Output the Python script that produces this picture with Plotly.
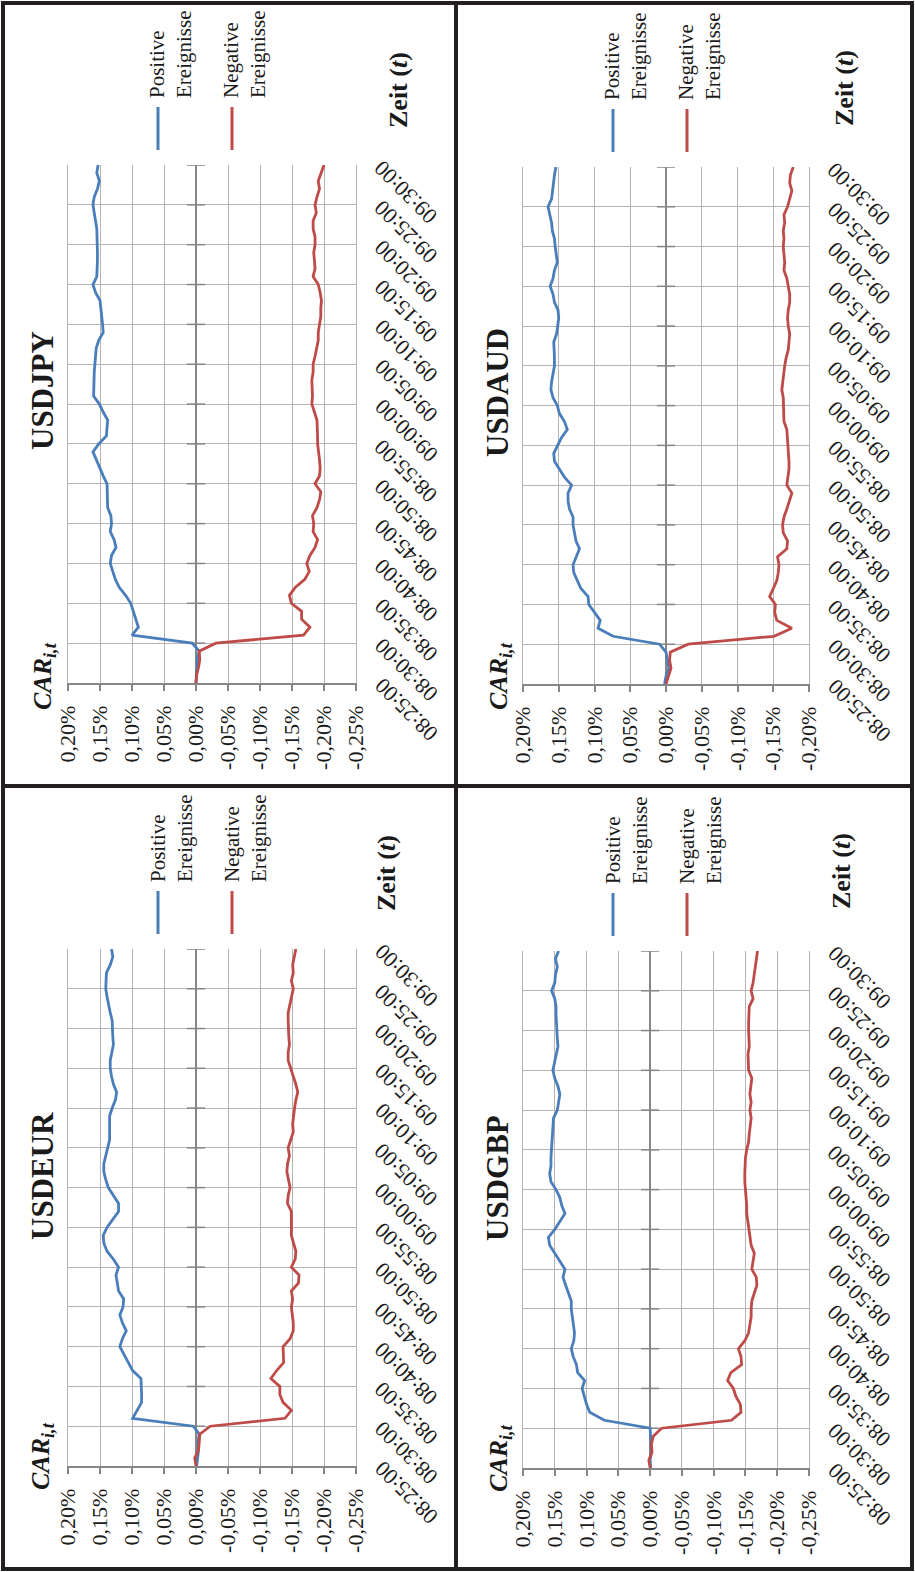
import plotly.graph_objects as go

# ---------------- data ----------------
minutes = list(range(66))  # minutes after 08:25:00
time_ticks = list(range(0, 66, 5))
time_labels = ["08:25:00", "08:30:00", "08:35:00", "08:40:00", "08:45:00", "08:50:00",
               "08:55:00", "09:00:00", "09:05:00", "09:10:00", "09:15:00", "09:20:00",
               "09:25:00", "09:30:00"]

value_ticks_wide = [0.20, 0.15, 0.10, 0.05, 0.00, -0.05, -0.10, -0.15, -0.20, -0.25]
value_labels_wide = ["0,20%", "0,15%", "0,10%", "0,05%", "0,00%", "-0,05%", "-0,10%",
                     "-0,15%", "-0,20%", "-0,25%"]
value_ticks_narrow = [0.20, 0.15, 0.10, 0.05, 0.00, -0.05, -0.10, -0.15, -0.20]
value_labels_narrow = ["0,20%", "0,15%", "0,10%", "0,05%", "0,00%", "-0,05%", "-0,10%",
                       "-0,15%", "-0,20%"]

series_names = ["Positive<br>Ereignisse", "Negative<br>Ereignisse"]

jpy_pos = [0.000, -0.001, -0.002, -0.002, -0.005, 0.006, 0.100, 0.090, 0.094, 0.098,
           0.102, 0.110, 0.120, 0.126, 0.130, 0.134, 0.132, 0.125, 0.128, 0.134,
           0.132, 0.133, 0.138, 0.138, 0.138, 0.139, 0.145, 0.150, 0.155, 0.161,
           0.152, 0.140, 0.139, 0.138, 0.145, 0.151, 0.160, 0.160, 0.160, 0.159,
           0.158, 0.157, 0.156, 0.152, 0.145, 0.146, 0.147, 0.149, 0.150, 0.157,
           0.161, 0.155, 0.154, 0.154, 0.154, 0.154, 0.155, 0.155, 0.157, 0.159,
           0.161, 0.159, 0.154, 0.151, 0.155, 0.153]
jpy_neg = [0.000, -0.001, -0.004, -0.006, -0.005, -0.031, -0.168, -0.178, -0.165, -0.165,
           -0.149, -0.146, -0.155, -0.170, -0.177, -0.173, -0.178, -0.186, -0.190, -0.183,
           -0.184, -0.182, -0.189, -0.193, -0.195, -0.186, -0.193, -0.194, -0.193, -0.191,
           -0.190, -0.190, -0.189, -0.189, -0.185, -0.181, -0.182, -0.181, -0.181, -0.183,
           -0.183, -0.186, -0.189, -0.191, -0.191, -0.193, -0.195, -0.195, -0.196, -0.194,
           -0.191, -0.183, -0.186, -0.185, -0.184, -0.186, -0.186, -0.183, -0.183, -0.188,
           -0.186, -0.189, -0.193, -0.191, -0.196, -0.200]

aud_pos = [0.002, 0.000, -0.004, -0.002, 0.000, 0.009, 0.074, 0.095, 0.092, 0.100,
           0.108, 0.109, 0.119, 0.124, 0.129, 0.130, 0.125, 0.121, 0.126, 0.128,
           0.130, 0.130, 0.135, 0.137, 0.137, 0.132, 0.142, 0.149, 0.156, 0.157,
           0.152, 0.146, 0.138, 0.142, 0.149, 0.152, 0.158, 0.161, 0.160, 0.158,
           0.156, 0.156, 0.157, 0.157, 0.153, 0.151, 0.150, 0.151, 0.156, 0.158,
           0.162, 0.158, 0.156, 0.152, 0.154, 0.155, 0.156, 0.159, 0.160, 0.163,
           0.165, 0.160, 0.159, 0.157, 0.156, 0.154]
aud_neg = [0.000, -0.004, -0.007, -0.005, -0.006, -0.031, -0.151, -0.176, -0.155, -0.152,
           -0.153, -0.145, -0.150, -0.155, -0.157, -0.158, -0.156, -0.169, -0.170, -0.164,
           -0.163, -0.165, -0.169, -0.173, -0.176, -0.169, -0.171, -0.172, -0.172, -0.171,
           -0.171, -0.170, -0.169, -0.165, -0.165, -0.164, -0.164, -0.162, -0.163, -0.164,
           -0.166, -0.168, -0.171, -0.172, -0.173, -0.171, -0.170, -0.171, -0.173, -0.173,
           -0.171, -0.169, -0.165, -0.166, -0.165, -0.164, -0.165, -0.164, -0.166, -0.165,
           -0.170, -0.173, -0.176, -0.173, -0.174, -0.178]

eur_pos = [-0.001, -0.002, -0.004, -0.003, -0.005, 0.004, 0.099, 0.092, 0.085, 0.085,
           0.085, 0.086, 0.099, 0.106, 0.113, 0.119, 0.115, 0.109, 0.115, 0.119,
           0.114, 0.113, 0.121, 0.123, 0.125, 0.121, 0.129, 0.139, 0.144, 0.145,
           0.139, 0.130, 0.121, 0.121, 0.129, 0.137, 0.141, 0.144, 0.144, 0.141,
           0.137, 0.135, 0.135, 0.135, 0.135, 0.131, 0.126, 0.124, 0.129, 0.132,
           0.134, 0.134, 0.131, 0.129, 0.130, 0.131, 0.131, 0.134, 0.137, 0.139,
           0.141, 0.141, 0.140, 0.134, 0.130, 0.132]
eur_neg = [0.000, 0.002, -0.004, -0.005, -0.006, -0.022, -0.139, -0.149, -0.136, -0.131,
           -0.131, -0.117, -0.126, -0.137, -0.136, -0.136, -0.147, -0.152, -0.152, -0.151,
           -0.149, -0.151, -0.149, -0.160, -0.161, -0.149, -0.155, -0.156, -0.152, -0.149,
           -0.149, -0.149, -0.149, -0.143, -0.144, -0.147, -0.144, -0.142, -0.143, -0.146,
           -0.144, -0.148, -0.152, -0.151, -0.152, -0.154, -0.156, -0.159, -0.156, -0.152,
           -0.147, -0.144, -0.144, -0.146, -0.145, -0.144, -0.144, -0.144, -0.147, -0.149,
           -0.152, -0.149, -0.152, -0.151, -0.154, -0.156]

gbp_pos = [-0.001, 0.000, -0.002, -0.001, -0.001, 0.000, 0.072, 0.095, 0.100, 0.103,
           0.107, 0.103, 0.114, 0.116, 0.121, 0.124, 0.120, 0.119, 0.121, 0.123,
           0.124, 0.124, 0.129, 0.133, 0.137, 0.134, 0.142, 0.150, 0.158, 0.160,
           0.150, 0.142, 0.134, 0.139, 0.142, 0.148, 0.156, 0.158, 0.156, 0.156,
           0.155, 0.154, 0.153, 0.153, 0.152, 0.146, 0.144, 0.142, 0.145, 0.150,
           0.153, 0.150, 0.147, 0.145, 0.146, 0.147, 0.147, 0.148, 0.148, 0.150,
           0.155, 0.150, 0.149, 0.146, 0.149, 0.144]
gbp_neg = [0.000, 0.002, -0.003, -0.002, -0.005, -0.018, -0.128, -0.143, -0.142, -0.135,
           -0.131, -0.122, -0.127, -0.144, -0.143, -0.139, -0.149, -0.155, -0.157, -0.159,
           -0.159, -0.160, -0.164, -0.168, -0.167, -0.160, -0.162, -0.164, -0.159, -0.157,
           -0.155, -0.153, -0.152, -0.152, -0.151, -0.149, -0.149, -0.149, -0.149, -0.150,
           -0.152, -0.155, -0.156, -0.157, -0.159, -0.157, -0.159, -0.157, -0.159, -0.160,
           -0.155, -0.155, -0.154, -0.156, -0.155, -0.155, -0.155, -0.155, -0.156, -0.162,
           -0.159, -0.162, -0.164, -0.165, -0.167, -0.169]

# ---------------- layout helpers ----------------
W, H = 915, 1572


def px(x):
    return x / W


def py(y):
    return 1 - y / H


BLUE = "#4a7ebb"
RED = "#be4b48"
GRID = "#b4b4b4"
AXC = "#868686"
INK = "#1a1a1a"
FONT = "Liberation Serif, Times New Roman, serif"

# name, pos, neg, (left, right, top, bottom) plot box px, tick set,
# title (x,y), zeit (x,y), car (x,y)
panels = [
    ("USDJPY", jpy_pos, jpy_neg, (68, 356, 165, 683), "wide", (42, 391), (398, 90), (44, 676)),
    ("USDAUD", aud_pos, aud_neg, (523, 809, 167, 684), "narrow", (497, 393), (845, 88), (500, 676)),
    ("USDEUR", eur_pos, eur_neg, (68, 356, 949, 1466), "wide", (42, 1176), (387, 873), (42, 1456)),
    ("USDGBP", gbp_pos, gbp_neg, (523, 809, 951, 1468), "wide", (497, 1178), (841, 871), (500, 1458)),
]

fig = go.Figure()
annotations = []
shapes = []
layout_axes = {}

for i, (name, pos, neg, box, tickset, tpos, zpos, cpos) in enumerate(panels, start=1):
    l, r, t, b = box
    xa, ya = f"x{i}", f"y{i}"
    if tickset == "wide":
        tv, tt, vmin = value_ticks_wide, value_labels_wide, -0.25
    else:
        tv, tt, vmin = value_ticks_narrow, value_labels_narrow, -0.20

    layout_axes[f"xaxis{i}"] = dict(
        domain=[px(l), px(r)], range=[0.20, vmin], anchor=ya,
        tickmode="array", tickvals=tv, ticktext=tt, tickangle=-90,
        ticks="outside", ticklen=6, tickwidth=1.5, tickcolor=AXC,
        tickfont=dict(family=FONT, size=22, color=INK), ticklabelstandoff=6,
        showgrid=True, gridcolor=GRID, gridwidth=1.4,
        zeroline=True, zerolinecolor=AXC, zerolinewidth=2,
        showline=True, linecolor=AXC, linewidth=2, fixedrange=True,
        automargin=False,
    )
    layout_axes[f"yaxis{i}"] = dict(
        domain=[py(b), py(t)], range=[0, 65], anchor=xa,
        tickmode="array", tickvals=time_ticks, showticklabels=False, ticks="",
        showgrid=True, gridcolor=GRID, gridwidth=1.4,
        zeroline=False, showline=True, mirror=True, linecolor=GRID, linewidth=1.4,
        fixedrange=True, automargin=False,
    )

    # crossing tick marks on the time axis (at 0,00%)
    fig.add_trace(go.Scatter(
        x=[0] * (len(time_ticks) - 1), y=time_ticks[1:], xaxis=xa, yaxis=ya,
        mode="markers", marker=dict(symbol="line-ew", size=13,
                                    line=dict(color=AXC, width=1.5)),
        hoverinfo="skip", showlegend=False))

    fig.add_trace(go.Scatter(x=pos, y=minutes, xaxis=xa, yaxis=ya, mode="lines",
                             line=dict(color=BLUE, width=2.8), showlegend=False,
                             name="Positive Ereignisse"))
    fig.add_trace(go.Scatter(x=neg, y=minutes, xaxis=xa, yaxis=ya, mode="lines",
                             line=dict(color=RED, width=2.8), showlegend=False,
                             name="Negative Ereignisse"))

    # time tick labels (rotated)
    for m, lab in zip(time_ticks, time_labels):
        annotations.append(dict(
            x=px(r + 50), xref="paper", y=m, yref=ya, yshift=-27,
            text=lab, textangle=-135, showarrow=False,
            xanchor="center", yanchor="middle",
            font=dict(family=FONT, size=22, color=INK)))

    # title
    annotations.append(dict(
        x=px(tpos[0]), y=py(tpos[1]), xref="paper", yref="paper",
        text=f"<b>{name}</b>", textangle=-90, showarrow=False,
        xanchor="center", yanchor="middle",
        font=dict(family=FONT, size=31, color=INK)))
    # axis titles
    annotations.append(dict(
        x=px(zpos[0]), y=py(zpos[1]), xref="paper", yref="paper",
        text="<b>Zeit (<i>t</i>)</b>", textangle=-90, showarrow=False,
        xanchor="center", yanchor="middle",
        font=dict(family=FONT, size=26, color=INK)))
    annotations.append(dict(
        x=px(cpos[0]), y=py(cpos[1]), xref="paper", yref="paper",
        text="<b><i>CAR</i></b><sub><b><i>i,t</i></b></sub>", textangle=-90,
        showarrow=False, xanchor="center", yanchor="middle",
        font=dict(family=FONT, size=26, color=INK)))

    # legend
    for k, (label, col) in enumerate(zip(series_names, [BLUE, RED])):
        lx = l + 90 + 74 * k
        shapes.append(dict(type="line", xref="paper", yref="paper",
                           x0=px(lx), x1=px(lx), y0=py(t - 58), y1=py(t - 15),
                           line=dict(color=col, width=3)))
        annotations.append(dict(
            x=px(lx + 13), y=py(t - 110), xref="paper", yref="paper",
            text=label, textangle=-90, align="left", showarrow=False,
            xanchor="center", yanchor="middle",
            font=dict(family=FONT, size=21, color=INK)))

# frame
FR = "#231f20"
shapes.append(dict(type="rect", xref="paper", yref="paper",
                   x0=px(3), x1=px(912), y0=py(3), y1=py(1569),
                   line=dict(color=FR, width=4)))
shapes.append(dict(type="line", xref="paper", yref="paper",
                   x0=px(456), x1=px(456), y0=py(3), y1=py(1569),
                   line=dict(color=FR, width=4)))
shapes.append(dict(type="line", xref="paper", yref="paper",
                   x0=px(3), x1=px(912), y0=py(786), y1=py(786),
                   line=dict(color=FR, width=4)))

fig.update_layout(
    width=W, height=H, autosize=False,
    margin=dict(l=0, r=0, t=0, b=0, pad=0, autoexpand=False),
    paper_bgcolor="white", plot_bgcolor="white",
    showlegend=False, annotations=annotations, shapes=shapes,
    **layout_axes)

fig.write_html(
    "out.html",
    config={"displayModeBar": False, "responsive": False},
    post_script="document.body.style.margin='0px';document.body.style.overflow='hidden';",
)
